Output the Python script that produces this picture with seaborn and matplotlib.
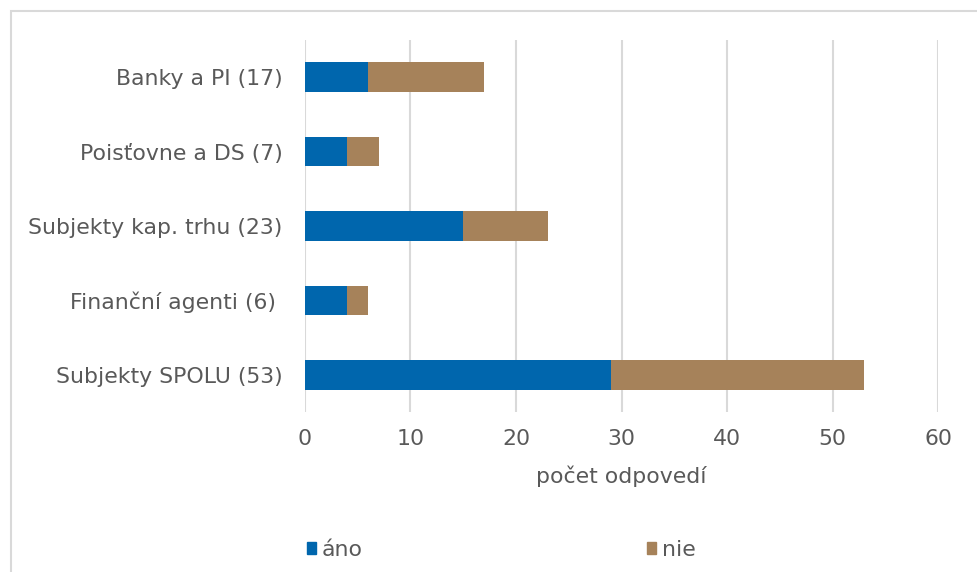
import matplotlib
matplotlib.use("Agg")
import matplotlib.pyplot as plt
import matplotlib.patches as mpatches
import seaborn as sns
import pandas as pd

categories = [
    "Banky a PI (17)",
    "Poisťovne a DS (7)",
    "Subjekty kap. trhu (23)",
    "Finanční agenti (6) ",
    "Subjekty SPOLU (53)",
]
ano = [6, 4, 15, 4, 29]
nie = [11, 3, 8, 2, 24]
x_ticks = [0, 10, 20, 30, 40, 50, 60]

BLUE = "#0066AD"
BROWN = "#A6825A"
TEXT = "#595959"
GRID = "#D9D9D9"
FS = 15.8

df = pd.DataFrame({"kategoria": categories, "ano": ano, "nie": nie})
df["spolu"] = df["ano"] + df["nie"]

sns.set_theme(style="white")
plt.rcParams["font.family"] = ["DejaVu Sans"]

fig = plt.figure(figsize=(9.78, 5.72), dpi=100)
ax = fig.add_axes([305 / 978, 1 - 412 / 572, (938 - 305) / 978, (412 - 40) / 572])

# stacked bars: full total in brown, "áno" share drawn over it in blue
sns.barplot(data=df, x="spolu", y="kategoria", color=BROWN, width=0.4,
            saturation=1, linewidth=0, ax=ax, orient="h")
sns.barplot(data=df, x="ano", y="kategoria", color=BLUE, width=0.4,
            saturation=1, linewidth=0, ax=ax, orient="h")

ax.set_xlim(0, 60)
ax.set_ylim(4.5, -0.5)
ax.set_xticks(x_ticks)
ax.set_xticklabels([str(t) for t in x_ticks])
ax.xaxis.grid(True, color=GRID, linewidth=1.5)
ax.set_axisbelow(True)
for s in ax.spines.values():
    s.set_visible(False)

ax.tick_params(axis="x", length=0, pad=12, labelsize=FS, labelcolor=TEXT)
ax.tick_params(axis="y", length=0, pad=16, labelsize=FS, labelcolor=TEXT)
ax.set_ylabel("")
ax.set_xlabel("počet odpovedí", fontsize=FS, color=TEXT, labelpad=12)

handles = [
    mpatches.Patch(color=BLUE, label="áno"),
    mpatches.Patch(color=BROWN, label="nie"),
]
fig.legend(handles=handles, loc="center left", bbox_to_anchor=(307 / 978, 1 - 550 / 572),
           ncol=2, frameon=False, fontsize=FS, labelcolor=TEXT,
           handlelength=0.42, handleheight=0.5, handletextpad=0.25,
           columnspacing=12.95, borderpad=0, borderaxespad=0)

# chart-area frame
frame = mpatches.Rectangle((11 / 978, -0.1), 1.2, 1.1 - 11 / 572,
                           transform=fig.transFigure, fill=False,
                           edgecolor=GRID, linewidth=1.5)
fig.patches.append(frame)

fig.savefig("out.png", dpi=100)
